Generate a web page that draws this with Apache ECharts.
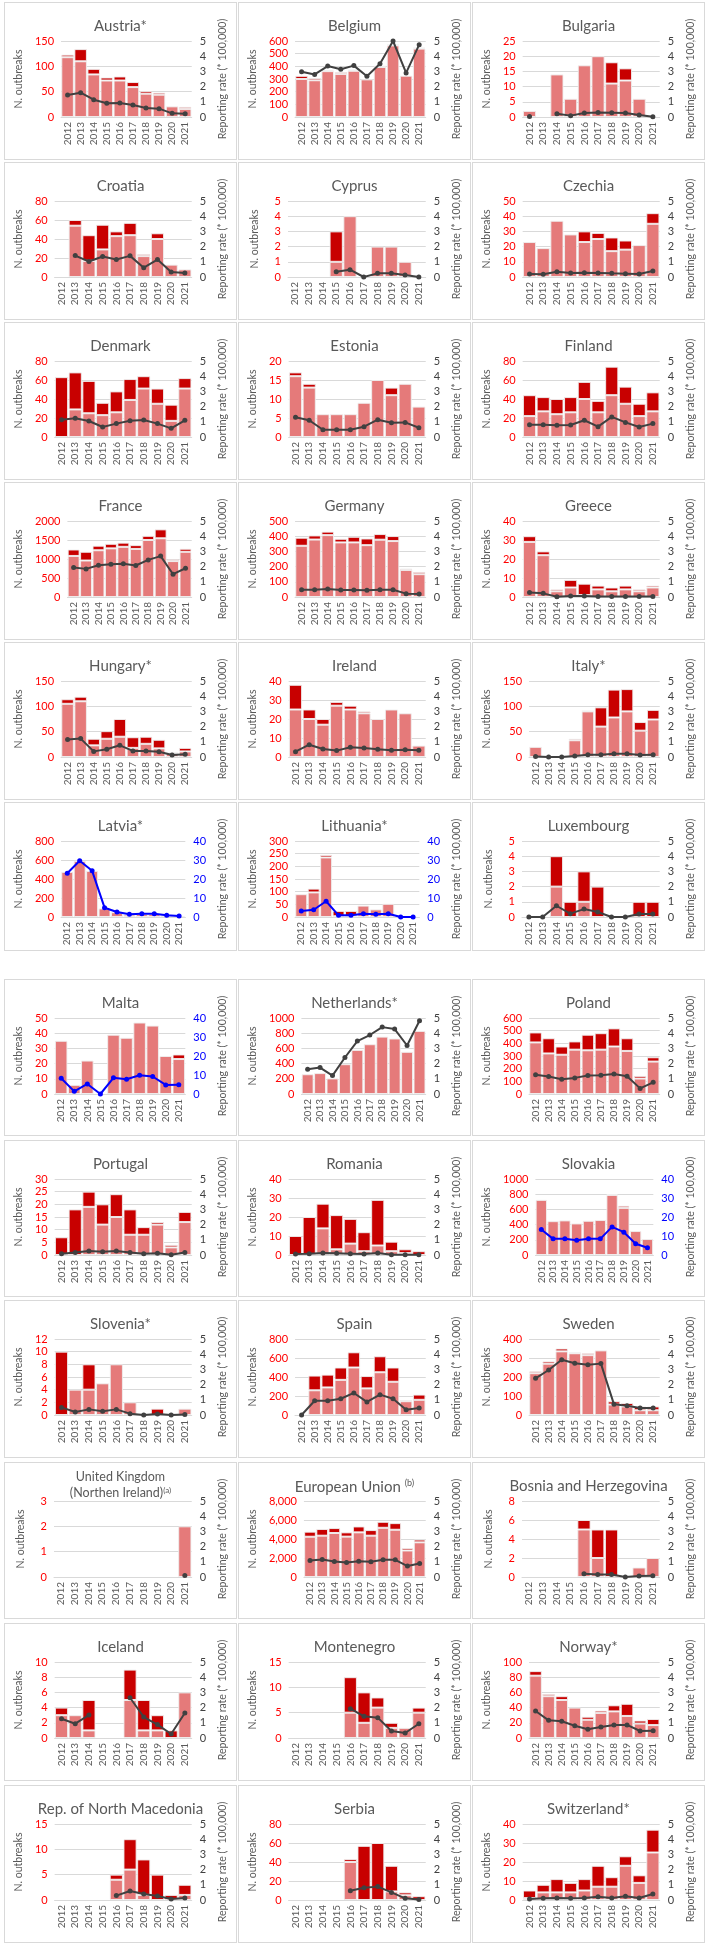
<!DOCTYPE html>
<html><head><meta charset="utf-8">
<script src="https://cdn.jsdelivr.net/npm/echarts@6/dist/echarts.min.js"></script>
<style>
body{margin:0;background:#fff;width:709px;height:1946px;position:relative;overflow:hidden;font-family:Lato}
.p{position:absolute;border:1px solid #d9d9d9;box-sizing:border-box;background:#fff}
</style></head><body>
<script>
const years = ['2012','2013','2014','2015','2016','2017','2018','2019','2020','2021'];
const countryTitles = ['Austria*','Belgium','Bulgaria','Croatia','Cyprus','Czechia','Denmark','Estonia','Finland','France','Germany','Greece','Hungary*','Ireland','Italy*','Latvia*','Lithuania*','Luxembourg','Malta','Netherlands*','Poland','Portugal','Romania','Slovakia','Slovenia*','Spain','Sweden','UK','EU','Bosnia and Herzegovina','Iceland','Montenegro','Norway*','Rep. of North Macedonia','Serbia','Switzerland*'];

// light = lower (light red) part, dark = upper (dark red) part, rate = reporting rate
const austria_light=[118,110,84,72,72,59,46,44,21,16], austria_dark=[5,24,11,6,8,10,5,4,0,4], austria_rate=[1.45,1.6,1.14,0.9,0.92,0.79,0.59,0.55,0.24,0.22];
const belgium_light=[300,290,362,340,365,297,395,565,326,540], belgium_dark=[25,18,8,15,8,0,10,8,0,7], belgium_rate=[2.98,2.8,3.35,3.14,3.38,2.68,3.5,5.0,2.9,4.76];
const bulgaria_light=[2,0,14,6,17,20,11,12,6,0], bulgaria_dark=[0,0,0,0,0,0,7,4,0,0], bulgaria_rate=[0.04,null,0.22,0.09,0.26,0.3,0.28,0.26,0.13,0.02];
const croatia_light=[0,54,17,29,43,44,22,40,13,8], croatia_dark=[0,6,27,26,5,13,2,6,0,0], croatia_rate=[null,1.41,1.02,1.35,1.15,1.39,0.61,1.15,0.33,0.26];
const cyprus_light=[0,0,0,1,4,0,2,2,1,0], cyprus_dark=[0,0,0,2,0,0,0,0,0,0], cyprus_rate=[null,null,null,0.35,0.48,0,0.24,0.24,0.13,0];
const czechia_light=[23,19,37,28,23,25,17,18,21,35], czechia_dark=[0,0,0,0,7,4,9,6,0,7], czechia_rate=[0.2,0.18,0.35,0.27,0.28,0.27,0.24,0.22,0.2,0.4];
const denmark_light=[0,29,25,23,26,39,51,35,17,51], denmark_dark=[63,39,34,13,22,22,13,16,17,11], denmark_rate=[1.14,1.23,1.05,0.66,0.88,1.07,1.12,0.88,0.57,1.1];
const estonia_light=[16,13,6,6,6,9,15,11,14,8], estonia_dark=[1,1,0,0,0,0,0,2,0,0], estonia_rate=[1.3,1.1,0.48,0.48,0.48,0.68,1.14,0.94,0.96,0.61];
const finland_light=[22,27,24,26,40,26,44,35,22,27], finland_dark=[22,15,16,16,18,12,30,18,13,20], finland_rate=[0.81,0.8,0.77,0.79,1.1,0.68,1.32,0.96,0.66,0.88];
const france_light=[1080,960,1230,1280,1320,1265,1500,1545,945,1190], france_dark=[170,230,120,120,110,100,110,235,45,80], france_rate=[1.94,1.85,2.09,2.16,2.18,2.07,2.44,2.69,1.5,1.89];
const germany_light=[337,378,407,359,359,341,377,368,178,150], germany_dark=[53,27,23,24,37,44,37,33,9,15], germany_rate=[0.48,0.48,0.53,0.46,0.46,0.44,0.48,0.48,0.22,0.2];
const greece_light=[29,22,3,5,1,4,3,4,3,5], greece_dark=[3,2,1,4,6,2,2,2,1,1], greece_rate=[0.3,0.24,0.02,0.06,0.06,0.03,0.03,0.03,0.03,0.03];
const hungary_light=[105,110,23,36,40,18,26,17,7,11], hungary_dark=[9,9,13,15,35,21,14,17,2,7], hungary_rate=[1.15,1.21,0.37,0.51,0.77,0.4,0.4,0.35,0.13,0.18];
const ireland_light=[25,20,17,27,25,23,20,25,23,6], ireland_dark=[13,5,3,2,2,1,0,0,0,0], ireland_rate=[0.35,0.81,0.53,0.42,0.64,0.6,0.51,0.44,0.48,0.44];
const italy_light=[20,0,0,33,90,60,78,90,52,74], italy_dark=[0,0,0,3,1,38,55,44,17,19], italy_rate=[0.04,0,0,0.07,0.15,0.15,0.22,0.22,0.13,0.15];
const latvia_light=[475,590,485,90,50,25,30,30,15,10], latvia_dark=[0,0,0,0,0,0,0,0,0,0], latvia_rate=[23,29.6,24.3,4.9,2.6,1.4,1.7,1.7,0.9,0.5];
const lithuania_light=[90,97,235,3,3,45,30,52,0,0], lithuania_dark=[0,15,10,21,21,0,0,0,0,0], lithuania_rate=[3.1,3.8,8.3,0.9,0.9,1.7,1.4,1.7,0,0];
const luxembourg_light=[0,0,2,0,1,0,0,0,0,0], luxembourg_dark=[0,0,2,1,2,2,0,0,1,1], luxembourg_rate=[0,0,0.74,0.22,0.52,0.33,0,0,0.2,0.2];
const malta_light=[35,6,22,0,39,37,47,45,25,23], malta_dark=[0,0,0,0,0,0,0,0,0,3], malta_rate=[8.3,1.4,5.3,0,8.5,7.8,9.9,9.2,4.8,4.9];
const netherlands_light=[260,275,205,392,580,655,755,730,555,830], netherlands_dark=[0,0,0,0,0,0,0,0,0,0], netherlands_rate=[1.63,1.74,1.21,2.4,3.48,3.88,4.4,4.27,3.19,4.82];
const poland_light=[407,320,310,350,345,350,375,340,122,256], poland_dark=[79,120,65,65,123,130,143,100,21,34], poland_rate=[1.26,1.15,0.97,1.06,1.21,1.23,1.32,1.17,0.37,0.77];
const portugal_light=[0,0,19,12,15,8,8,12,3,13], portugal_dark=[7,18,6,8,9,10,3,1,1,4], portugal_rate=[0.09,0.17,0.26,0.22,0.26,0.17,0.09,0.11,0.02,0.17];
const romania_light=[0,0,14,3,6,2,5,2,1,0], romania_dark=[10,20,13,18,13,10,24,5,2,2], romania_rate=[0.07,0.09,0.13,0.11,0.09,0.07,0.13,0.02,0.02,0.02];
const slovakia_light=[725,445,455,415,450,460,790,620,315,210], slovakia_dark=[0,0,0,0,0,0,10,28,0,0], slovakia_rate=[13.4,8.5,8.5,7.8,8.5,8.5,14.8,12,5.9,3.8];
const slovenia_light=[0,4,4,5,8,2,0,0,0,1], slovenia_dark=[10,0,4,0,0,0,0,1,0,0], slovenia_rate=[0.5,0.2,0.37,0.24,0.37,0.09,0,0.07,0,0.04];
const spain_light=[0,260,290,370,500,280,450,350,145,160], spain_dark=[0,155,135,130,160,130,168,150,13,55], spain_rate=[0,0.94,0.94,1.07,1.45,0.86,1.34,1.07,0.35,0.46];
const sweden_light=[220,270,335,325,315,340,55,45,25,25], sweden_dark=[10,12,15,5,10,0,17,18,20,20], sweden_rate=[2.41,2.96,3.64,3.4,3.31,3.38,0.7,0.61,0.46,0.46];
const uk_light=[0,0,0,0,0,0,0,0,0,2], uk_dark=[0,0,0,0,0,0,0,0,0,0], uk_rate=[null,null,null,null,null,null,null,null,null,0.1];
const eu_light=[4240,4350,4630,4250,4700,4350,5180,4975,2790,3650], eu_dark=[530,700,520,450,620,590,630,695,240,290], eu_rate=[1.09,1.15,1.02,0.96,1.04,1.0,1.13,1.13,0.72,0.89];
const bosnia_light=[0,0,0,0,5,2,0,0,1,2], bosnia_dark=[0,0,0,0,1,3,5,0,0,0], bosnia_rate=[null,null,null,null,0.22,0.17,0.17,0,0.07,0.09];
const iceland_light=[3,3,1,0,0,5,1,1,0,6], iceland_dark=[1,0,4,0,0,4,4,2,1,0], iceland_rate=[1.27,0.94,1.51,null,null,2.65,1.38,0.88,0.26,1.64];
const montenegro_light=[0,0,0,0,5,3,6,2,2,5], montenegro_dark=[0,0,0,0,7,6,2,1,0,1], montenegro_rate=[null,null,null,null,1.93,1.43,1.34,0.46,0.33,0.94];
const norway_light=[82,55,50,40,24,33,35,29,19,17], norway_dark=[6,3,5,0,4,3,8,16,4,8], norway_rate=[1.78,1.16,1.1,0.81,0.57,0.72,0.86,0.86,0.46,0.48];
const macedonia_light=[0,0,0,0,4,6,1,0,0,1], macedonia_dark=[0,0,0,0,1,6,7,5,1,2], macedonia_rate=[null,null,null,null,0.29,0.59,0.39,0.26,0.07,0.13];
const serbia_light=[0,0,0,0,40,0,0,9,5,0], serbia_dark=[0,0,0,0,3,57,60,27,3,4], serbia_rate=[null,null,null,null,0.61,0.81,0.88,0.5,0.11,0.04];
const switzerland_light=[1,4,4,4,5,7,7,18,9,25], switzerland_dark=[4,4,7,5,6,11,5,5,4,12], switzerland_rate=[0.07,0.11,0.13,0.11,0.13,0.22,0.13,0.24,0.13,0.39];

// axis tick settings
const outbreakAxisMax  = [150,600,25,80,5,50,80,20,80,2000,500,40,150,40,150,800,300,5,50,1000,600,30,40,1000,12,800,400,3,8000,8,10,15,100,15,80,40];
const outbreakAxisStep = [50,100,5,20,1,10,20,5,20,500,100,10,50,10,50,200,50,1,10,200,100,5,10,200,2,200,100,1,2000,2,2,5,20,5,20,10];
const rateAxisMax      = [5,5,5,5,5,5,5,5,5,5,5,5,5,5,5,40,40,5,40,5,5,5,5,40,5,5,5,5,5,5,5,5,5,5,5,5];

const panelSeries = [
 [austria_light,austria_dark,austria_rate],[belgium_light,belgium_dark,belgium_rate],[bulgaria_light,bulgaria_dark,bulgaria_rate],
 [croatia_light,croatia_dark,croatia_rate],[cyprus_light,cyprus_dark,cyprus_rate],[czechia_light,czechia_dark,czechia_rate],
 [denmark_light,denmark_dark,denmark_rate],[estonia_light,estonia_dark,estonia_rate],[finland_light,finland_dark,finland_rate],
 [france_light,france_dark,france_rate],[germany_light,germany_dark,germany_rate],[greece_light,greece_dark,greece_rate],
 [hungary_light,hungary_dark,hungary_rate],[ireland_light,ireland_dark,ireland_rate],[italy_light,italy_dark,italy_rate],
 [latvia_light,latvia_dark,latvia_rate],[lithuania_light,lithuania_dark,lithuania_rate],[luxembourg_light,luxembourg_dark,luxembourg_rate],
 [malta_light,malta_dark,malta_rate],[netherlands_light,netherlands_dark,netherlands_rate],[poland_light,poland_dark,poland_rate],
 [portugal_light,portugal_dark,portugal_rate],[romania_light,romania_dark,romania_rate],[slovakia_light,slovakia_dark,slovakia_rate],
 [slovenia_light,slovenia_dark,slovenia_rate],[spain_light,spain_dark,spain_rate],[sweden_light,sweden_dark,sweden_rate],
 [uk_light,uk_dark,uk_rate],[eu_light,eu_dark,eu_rate],[bosnia_light,bosnia_dark,bosnia_rate],
 [iceland_light,iceland_dark,iceland_rate],[montenegro_light,montenegro_dark,montenegro_rate],[norway_light,norway_dark,norway_rate],
 [macedonia_light,macedonia_dark,macedonia_rate],[serbia_light,serbia_dark,serbia_rate],[switzerland_light,switzerland_dark,switzerland_rate]
];

const colX = [4, 238, 472], panelW = 233;
const rowTop = [2,162,322,482,642,802,979,1140,1300,1462,1623,1785];
const rowH = [158,158,158,158,158,149,157,157,158,157,158,158];
const FONT = 'Lato';
const GREY = '#595959';

panelSeries.forEach((s, i) => {
  const r = Math.floor(i / 3), c = i % 3;
  const div = document.createElement('div');
  div.className = 'p';
  div.style.left = colX[c] + 'px';
  div.style.top = rowTop[r] + 'px';
  div.style.width = panelW + 'px';
  div.style.height = rowH[r] + 'px';
  document.body.appendChild(div);
  const chart = echarts.init(div, null, {renderer: 'canvas'});
  const blue = rateAxisMax[i] === 40;
  const lineColor = blue ? '#0000ff' : '#404040';
  let title;
  if (countryTitles[i] === 'UK') {
    title = {text: 'United Kingdom\n(Northen Ireland){s|(a)}', left: 'center', top: 1,
      textStyle: {fontSize: 12.5, fontWeight: 'normal', color: GREY, fontFamily: FONT, lineHeight: 16,
        rich: {s: {fontSize: 8, color: GREY, fontFamily: FONT, lineHeight: 16, padding:[0,0,6,0]}}}};
  } else if (countryTitles[i] === 'EU') {
    title = {text: 'European Union {s|(b)}', left: 'center', top: 11,
      textStyle: {fontSize: 15, fontWeight: 'normal', color: GREY, fontFamily: FONT,
        rich: {s: {fontSize: 9, color: GREY, fontFamily: FONT, padding: [0,0,8,0]}}}};
  } else {
    title = {text: countryTitles[i], left: 'center', top: 11,
      textStyle: {fontSize: 15, fontWeight: 'normal', color: GREY, fontFamily: FONT}};
  }
  const fmtLeft = countryTitles[i] === 'EU' ? (v => v.toLocaleString('en-US')) : (v => String(v));
  chart.setOption({
    animation: false,
    title: title,
    grid: {left: 49, top: 38, width: 139, height: 76},
    xAxis: {type: 'category', data: years,
      axisLine: {show: true, lineStyle: {color: '#d9d9d9'}}, axisTick: {show: false},
      axisLabel: {rotate: 90, interval: 0, fontSize: 10, color: GREY, fontFamily: FONT, margin: 5}},
    yAxis: [
      {type: 'value', min: 0, max: outbreakAxisMax[i], interval: outbreakAxisStep[i], position: 'left',
       name: 'N. outbreaks', nameLocation: 'middle', nameRotate: 90, nameGap: 28,
       nameTextStyle: {fontSize: 10.5, color: GREY, fontFamily: FONT},
       axisLine: {show: false}, axisTick: {show: false},
       axisLabel: {color: '#ff0000', fontSize: 11, fontFamily: FONT, margin: 7, formatter: fmtLeft},
       splitLine: {lineStyle: {color: '#d9d9d9', width: 1}}},
      {type: 'value', min: 0, max: rateAxisMax[i], interval: blue ? 10 : 1, position: 'right',
       name: 'Reporting rate (* 100,000)', nameLocation: 'middle', nameRotate: 90, nameGap: 23,
       nameTextStyle: {fontSize: 10.5, color: GREY, fontFamily: FONT},
       axisLine: {show: false}, axisTick: {show: false},
       axisLabel: {color: blue ? '#0000ff' : '#404040', fontSize: 11, fontFamily: FONT, margin: 8},
       splitLine: {show: false}}
    ],
    series: [
      {type: 'bar', stack: 'o', data: s[0].map(v => v || null), barCategoryGap: '4%',
       itemStyle: {color: '#e57a7a', borderColor: 'rgba(240,240,240,0.9)', borderWidth: 1}},
      {type: 'bar', stack: 'o', data: s[1].map(v => v || null),
       itemStyle: {color: '#c80000', borderColor: 'rgba(240,240,240,0.9)', borderWidth: 1}},
      {type: 'line', yAxisIndex: 1, data: s[2], connectNulls: false, symbol: 'circle', symbolSize: 5,
       lineStyle: {color: lineColor, width: 2}, itemStyle: {color: lineColor}, z: 5}
    ]
  });
});
</script>
</body></html>
